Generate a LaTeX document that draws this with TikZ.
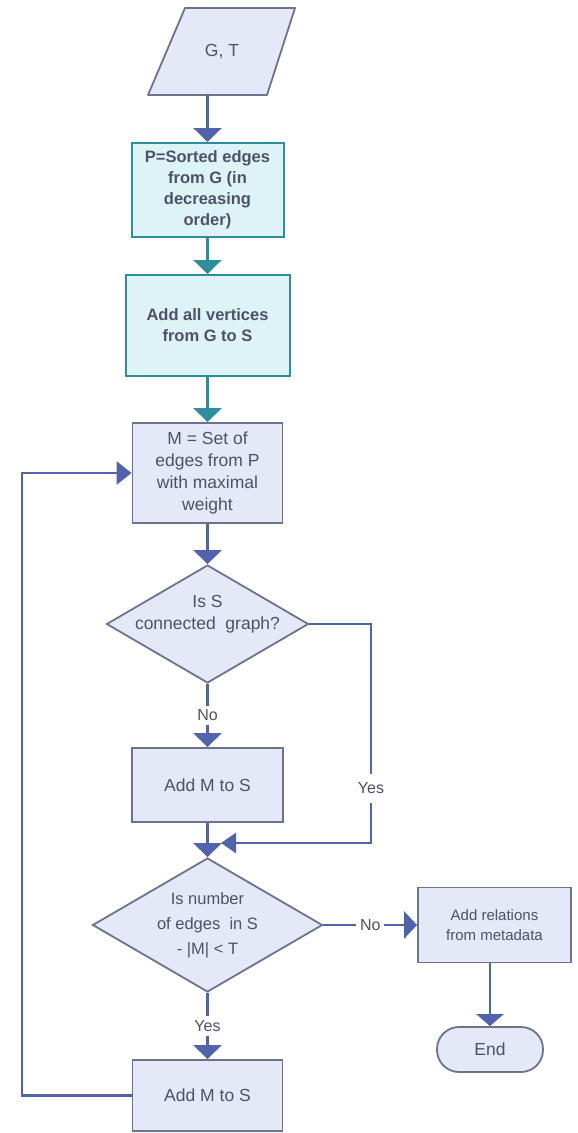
\documentclass[tikz,border=0pt]{standalone}
\usepackage{fontspec}
\setmainfont{Liberation Sans}
\usetikzlibrary{shapes.geometric,arrows.meta}
\definecolor{boxfill}{HTML}{E4E8F7}
\definecolor{boxline}{HTML}{6C7290}
\definecolor{tealfill}{HTML}{DDF3F5}
\definecolor{tealline}{HTML}{2F8E9E}
\definecolor{flowblue}{HTML}{5063AC}
\definecolor{txtgrey}{HTML}{4E5268}

\begin{document}
\begin{tikzpicture}
  [x=1pt,y=-1pt,
   every node/.style={text=txtgrey,font=\fontsize{17.5}{22}\selectfont,align=center,inner sep=0pt},
   stepbox/.style={rectangle,draw=boxline,fill=boxfill,line width=1.8pt},
   tealbox/.style={rectangle,draw=tealline,fill=tealfill,line width=2pt,font=\bfseries\fontsize{16.5}{21}\selectfont},
   decide/.style={diamond,draw=boxline,fill=boxfill,line width=1.8pt},
   inout/.style={draw=boxline,fill=boxfill,line width=1.8pt,line join=round},
   endbox/.style={rectangle,rounded corners=22pt,draw=boxline,fill=boxfill,line width=1.8pt},
   flow/.style={draw=flowblue,line width=2.6pt,-{Triangle[width=28pt,length=14pt]}},
   answer/.style={fill=white,inner sep=4pt,font=\fontsize{16}{19}\selectfont}]

  \useasboundingbox (0,0) rectangle (578,1133);

  \draw[inout] (185,8) -- (295,8) -- (267,95) -- (148,95) -- cycle;
  \node (gt) at (222,51.5) {G, T};
  \coordinate (gtout) at (207.5,95);
  \node[tealbox,minimum width=152pt,minimum height=94pt] (sortp) at (207.5,190) {P=Sorted edges\\from G (in\\decreasing\\order)};
  \node[tealbox,minimum width=164pt,minimum height=101pt] (addv) at (207.5,325.5) {Add all vertices\\from G to S};
  \node[stepbox,minimum width=150pt,minimum height=100pt] (setm) at (207.5,473) {M = Set of\\edges from P\\with maximal\\weight};
  \node[decide,minimum width=202pt,minimum height=118pt,label={[yshift=10pt]center:Is S\\connected\ \ graph?}] (conn) at (207.5,624) {};
  \node[stepbox,minimum width=151pt,minimum height=74pt] (addm1) at (207.5,785) {Add M to S};
  \node[decide,minimum width=230pt,minimum height=134pt,label={[font=\fontsize{16.5}{25}\selectfont]center:Is number\\of edges\ \ in S\\- |M| < T}] (nedges) at (207.5,925) {};
  \node[stepbox,minimum width=153pt,minimum height=75pt,font=\fontsize{15}{20}\selectfont] (addrel) at (494.5,925) {Add relations\\from metadata};
  \node[endbox,minimum width=106pt,minimum height=45pt] (endn) at (490,1049.5) {End};
  \node[stepbox,minimum width=150pt,minimum height=71pt] (addm2) at (207.5,1095.5) {Add M to S};

  \coordinate (yestop) at (371,624);
  \coordinate (yesbot) at (371,843);
  \coordinate (jn) at (221,843);
  \coordinate (loop) at (22,1095.5);

  \foreach \from/\to/\col in {gtout/sortp.north/flowblue,sortp/addv/tealline,addv/setm/tealline,setm/conn/flowblue,addm1/nedges/flowblue}
    \draw[flow,draw=\col] (\from) -- (\to);

  \draw[flow] (conn) -- node[answer]{No} (addm1);
  \draw[flow,-{Triangle[width=20pt,length=15pt]}] (conn.east) -- (yestop) -- node[answer,pos=0.75,inner ysep=9pt]{Yes} (yesbot) -- (jn);
  \draw[flow,-{Triangle[width=27pt,length=13pt]}] (nedges) -- node[answer]{No} (addrel);
  \draw[flow] (nedges) -- node[answer]{Yes} (addm2);
  \draw[flow,-{Triangle[width=27pt,length=12pt]}] (endn |- addrel.south) -- (endn.north);
  \draw[flow,-{Triangle[width=23pt,length=15pt]}] (addm2.west) -- (loop) |- (setm.west);
\end{tikzpicture}
\end{document}
